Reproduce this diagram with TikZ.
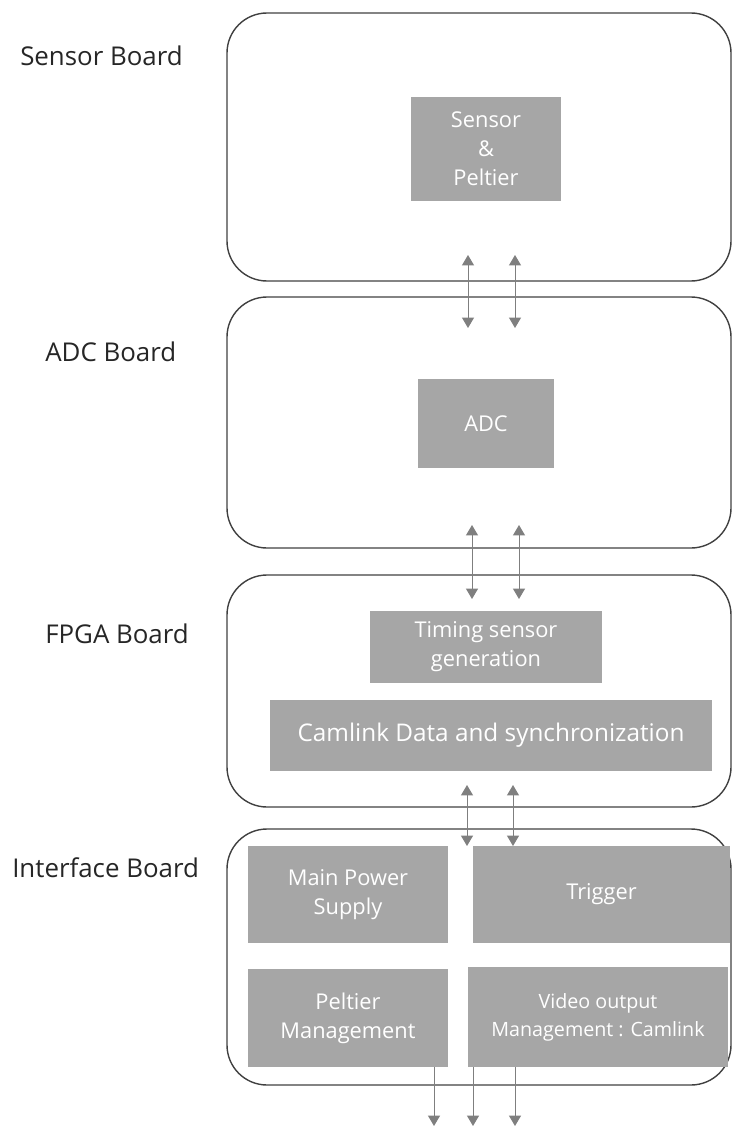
\documentclass[tikz,border=0pt]{standalone}
\usepackage{fontspec}
\setmainfont{Open Sans}
\usetikzlibrary{arrows.meta}
\definecolor{boxgray}{HTML}{A6A6A6}
\definecolor{linegray}{HTML}{7F7F7F}
\definecolor{edgegray}{HTML}{404040}
\tikzset{
  board/.style={draw=edgegray,line width=1pt,rounded corners=1cm,inner sep=0pt},
  blk/.style={fill=boxgray,text=white,inner sep=0pt,align=center,font=\fontsize{15.5}{20.5}\selectfont},
  lbl/.style={anchor=west,text=black!85,inner sep=0pt,font=\fontsize{18.4}{22}\selectfont},
  link/.style={draw=linegray,line width=0.7pt,{Triangle[width=0.3cm,length=0.26cm]}-{Triangle[width=0.3cm,length=0.26cm]}},
  outlink/.style={draw=linegray,line width=0.7pt,-{Triangle[width=0.3cm,length=0.26cm]}}
}
\begin{document}
\begin{tikzpicture}
		  \useasboundingbox (0,0) rectangle (18.3,-28.2);
		  % boards
		  \node[board,minimum width=12.6cm,minimum height=6.7cm] (sb) at (11.975,-3.675) {};
		  \node[board,minimum width=12.6cm,minimum height=6.275cm] (adcb) at (11.975,-10.5625) {};
		  \node[board,minimum width=12.6cm,minimum height=5.8cm] (fpgab) at (11.975,-17.275) {};
		  \node[board,minimum width=12.6cm,minimum height=6.4cm] (ifb) at (11.975,-23.925) {};
		  \node[lbl] (sbl) at (0.5,-1.4) {Sensor Board};
		  \node[lbl] (adcl) at (1.125,-8.8) {ADC Board};
		  \node[lbl] (fpgal) at (1.125,-15.85) {FPGA Board};
		  \node[lbl] (ifl) at (0.3,-21.7) {Interface Board};
		  % blocks
		  \node[blk,minimum width=3.75cm,minimum height=2.6cm] (sp) at (12.15,-3.725) {Sensor\\\&\\Peltier};
		  \node[blk,minimum width=3.4cm,minimum height=2.225cm] (adc) at (12.15,-10.5875) {ADC};
		  \node[blk,minimum width=5.8cm,minimum height=1.8cm] (tsg) at (12.15,-16.175) {Timing sensor\\generation};
		  \node[blk,minimum width=11.05cm,minimum height=1.775cm,font=\fontsize{17.3}{21}\selectfont] (cds) at (12.275,-18.3875) {Camlink Data and synchronization};
		  \node[blk,minimum width=5cm,minimum height=2.425cm] (mps) at (8.7,-22.3625) {Main Power\\Supply};
		  \node[blk,minimum width=6.425cm,minimum height=2.425cm] (trg) at (15.0375,-22.3625) {Trigger};
		  \node[blk,minimum width=5cm,minimum height=2.45cm] (pm) at (8.7,-25.45) {Peltier\\Management};
		  \node[blk,minimum width=6.5cm,minimum height=2.5cm,font=\fontsize{14}{20}\selectfont] (vom) at (14.95,-25.425) {Video output\\Management : Camlink};
		  % link ends
		  \coordinate (s1) at (11.7,-6.375);   \coordinate (a1) at (11.7,-8.2);
		  \coordinate (s2) at (12.875,-6.375); \coordinate (a2) at (12.875,-8.2);
		  \coordinate (a3) at (11.8,-13.125);  \coordinate (f1) at (11.8,-14.975);
		  \coordinate (a4) at (12.975,-13.125); \coordinate (f2) at (12.975,-14.975);
		  \coordinate (f3) at (11.675,-19.625); \coordinate (i1) at (11.675,-21.15);
		  \coordinate (f4) at (12.825,-19.625); \coordinate (i2) at (12.825,-21.15);
		  \coordinate (o1) at (10.85,-28.15);
		  \coordinate (o2) at (11.825,-28.15);
		  \coordinate (o3) at (12.875,-28.15);
		  \draw[link] (s1) -- (a1);
		  \draw[link] (s2) -- (a2);
		  \draw[link] (a3) -- (f1);
		  \draw[link] (a4) -- (f2);
		  \draw[link] (f3) -- (i1);
		  \draw[link] (f4) -- (i2);
		  \draw[outlink] (pm.south -| o1) -- (o1);
		  \draw[outlink] (vom.south -| o2) -- (o2);
		  \draw[outlink] (vom.south -| o3) -- (o3);
		\end{tikzpicture}
\end{document}
